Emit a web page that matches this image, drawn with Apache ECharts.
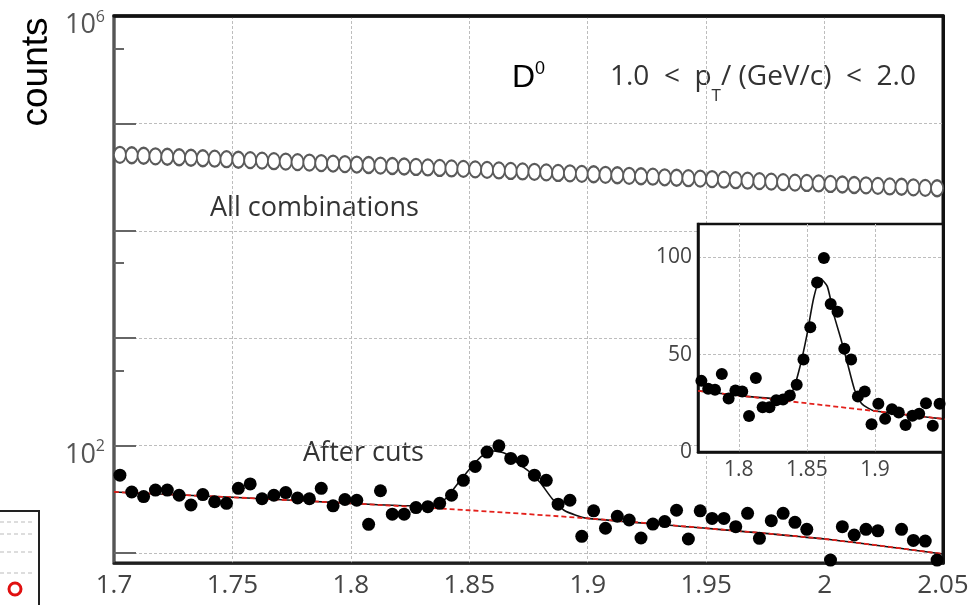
<!DOCTYPE html>
<html>
<head>
<meta charset="utf-8">
<script src="https://cdn.jsdelivr.net/npm/echarts@6/dist/echarts.min.js"></script>
<style>
  html, body { margin: 0; padding: 0; background: #fff; }
  #chart { width: 978px; height: 605px; }
</style>
</head>
<body>
<div id="chart"></div>
<script>
// invariant mass bin centres, GeV/c^2
const massBins = [
  1.7025, 1.7075, 1.7125, 1.7175, 1.7225, 1.7275, 1.7325, 1.7375, 1.7425, 1.7475,
  1.7525, 1.7575, 1.7625, 1.7675, 1.7725, 1.7775, 1.7825, 1.7875, 1.7925, 1.7975,
  1.8025, 1.8075, 1.8125, 1.8175, 1.8225, 1.8275, 1.8325, 1.8375, 1.8425, 1.8475,
  1.8525, 1.8575, 1.8625, 1.8675, 1.8725, 1.8775, 1.8825, 1.8875, 1.8925, 1.8975,
  1.9025, 1.9075, 1.9125, 1.9175, 1.9225, 1.9275, 1.9325, 1.9375, 1.9425, 1.9475,
  1.9525, 1.9575, 1.9625, 1.9675, 1.9725, 1.9775, 1.9825, 1.9875, 1.9925, 1.9975,
  2.0025, 2.0075, 2.0125, 2.0175, 2.0225, 2.0275, 2.0325, 2.0375, 2.0425, 2.0475
]
// "All combinations" (open circles)
const allComb = [
  51000, 50500, 50000, 49400, 48900, 48400, 47900, 47400, 46900, 46400,
  45900, 45500, 45000, 44500, 44100, 43600, 43200, 42700, 42300, 41800,
  41400, 41000, 40500, 40100, 39700, 39300, 38900, 38500, 38100, 37700,
  37300, 36900, 36500, 36100, 35700, 35400, 35000, 34600, 34300, 33900,
  33600, 33200, 32900, 32500, 32200, 31900, 31500, 31200, 30900, 30600,
  30300, 29900, 29600, 29300, 29000, 28700, 28400, 28100, 27900, 27600,
  27300, 27000, 26700, 26500, 26200, 25900, 25700, 25400, 25100, 24900
]
// "After cuts" (filled points), null = no point drawn
const afterCuts = [
  53, 37, 33.5, 38.5, 38.5, 34.5, 28, 35, 30, 29,
  40, 44, 32, 34.5, 36.5, 32.5, 32, 40, 27.5, 31.5,
  31, 18.5, 38, 23, 23, 26.5, 27, 29, 34.5, 47.5,
  64, 87, 99.5, 76, 72, 53, 47.5, 28.5, 31, 14.3,
  24.7, 17, 22, 20.3, 13.8, 18.6, 19.6, 25, 13.5, 24.7,
  21, 21, 17.6, 23.4, 13.7, 20, 23.4, 19.3, 16.6, null,
  8.6, 17.6, 14.7, 16.6, 16.1, null, 16.6, 13.1, 12.9, 8.6
]
// background fit (red dashed)
const bgX = [1.70, 1.75, 1.80, 1.85, 1.90, 1.95, 2.00, 2.05]
const bgY = [37, 33, 29, 25, 21, 17, 13.5, 9.8]
// signal + background fit (black)
const fitX = [1.70, 1.75, 1.80, 1.825, 1.835, 1.84, 1.845, 1.85, 1.855, 1.86, 1.865,
  1.87, 1.875, 1.88, 1.885, 1.89, 1.895, 1.90, 1.95, 2.00, 2.05]
const fitY = [37, 33, 29, 27.5, 28, 32, 44, 60, 79, 89, 85,
  70, 58, 45, 32, 25, 22.5, 21, 17, 13.5, 9.8]

const mainYTicks = [10, 100, 1000, 10000, 100000, 1000000]
const mainYLabels = [100, 1000000]
const mainYMinor = [50, 500, 5000, 50000, 500000]
const insetXTicks = [1.8, 1.85, 1.9]
const insetYTicks = [0, 50, 100]

const pts = (xs, ys) => xs.map((x, i) => [x, ys[i]])
const cutsData = massBins.map((x, i) => [x, afterCuts[i]]).filter(d => d[1] != null)

const gray = '#444'
const gridDash = { color: '#bdbdbd', width: 1, type: [3, 2] }

const chart = echarts.init(document.getElementById('chart'))
chart.setOption({
  animation: false,
  textStyle: { fontFamily: 'Open Sans' },
  grid: [
    { left: 114, top: 16, right: 35, bottom: 42, show: true, borderColor: '#111', borderWidth: 3 },
    { left: 698, top: 224, width: 245, height: 228, show: true, backgroundColor: '#fff',
      borderColor: '#111', borderWidth: 2.5, z: 5 }
  ],
  xAxis: [
    {
      type: 'value', gridIndex: 0, min: 1.7, max: 2.05, interval: 0.05,
      axisLine: { lineStyle: { color: '#222', width: 2.5 } },
      axisTick: { show: false },
      axisLabel: { fontSize: 26, color: gray, margin: 10 },
      splitLine: { show: true, lineStyle: gridDash }
    },
    {
      type: 'value', gridIndex: 1, min: 1.77, max: 1.95, z: 6,
      axisLine: { lineStyle: { color: '#111', width: 2.5 } },
      axisTick: { show: false, customValues: insetXTicks },
      axisLabel: { fontSize: 21, color: gray, margin: 8, customValues: insetXTicks },
      splitLine: { show: true, lineStyle: gridDash }
    },
    {
      // heavy top frame of the main panel
      type: 'value', gridIndex: 0, position: 'top', min: 1.7, max: 2.05, interval: 0.05, z: 2,
      axisLine: { lineStyle: { color: '#111', width: 3.5 } },
      axisTick: { show: false }, axisLabel: { show: false }, splitLine: { show: false }
    }
  ],
  yAxis: [
    {
      type: 'log', logBase: 10, gridIndex: 0, min: 8.07, max: 1000000,
      axisLine: { show: true, lineStyle: { color: '#555', width: 2 } },
      axisTick: { inside: true, length: 22, lineStyle: { color: '#666', width: 2 }, customValues: mainYTicks },
      axisLabel: {
        customValues: mainYLabels, margin: 9, padding: [16, 0, 0, 0],
        formatter: v => '{b|10}{s|' + Math.round(Math.log10(v)) + '}',
        rich: {
          b: { fontSize: 27, color: '#555', lineHeight: 30, verticalAlign: 'bottom' },
          s: { fontSize: 16, color: '#555', lineHeight: 16, verticalAlign: 'top' }
        }
      },
      splitLine: { show: true, lineStyle: gridDash }
    },
    {
      type: 'log', logBase: 10, gridIndex: 0, min: 8.07, max: 1000000, position: 'left',
      axisLine: { show: false },
      axisTick: { inside: true, length: 10, lineStyle: { color: '#666', width: 2 }, customValues: mainYMinor },
      axisLabel: { show: false },
      splitLine: { show: false }
    },
    {
      type: 'value', gridIndex: 1, min: 0, max: 117, z: 6,
      axisLine: { show: true, lineStyle: { color: '#111', width: 2.5 } },
      axisTick: { show: false, customValues: insetYTicks },
      axisLabel: { fontSize: 21, color: gray, margin: 6, customValues: insetYTicks },
      splitLine: { show: true, lineStyle: gridDash }
    },
    {
      // right frame of the main panel
      type: 'log', logBase: 10, gridIndex: 0, min: 8.07, max: 1000000, position: 'right', z: 2,
      axisLine: { show: true, lineStyle: { color: '#111', width: 3 } },
      axisTick: { show: false }, axisLabel: { show: false }, splitLine: { show: false }
    }
  ],
  series: [
    {
      name: 'All combinations', type: 'scatter', xAxisIndex: 0, yAxisIndex: 0,
      symbol: 'emptyCircle', symbolSize: [12, 16],
      itemStyle: { color: '#5a5a5a', borderWidth: 1.6, opacity: 1 },
      data: massBins.map((x, i) => [x, allComb[i]]), z: 3
    },
    {
      name: 'fit', type: 'line', xAxisIndex: 0, yAxisIndex: 0, showSymbol: false, smooth: 0.2,
      lineStyle: { color: '#111', width: 1.6 }, data: pts(fitX, fitY), z: 3
    },
    {
      name: 'background', type: 'line', xAxisIndex: 0, yAxisIndex: 0, showSymbol: false, smooth: 0.3,
      lineStyle: { color: '#e3201b', width: 1.8, type: [5, 3] }, data: pts(bgX, bgY), z: 4
    },
    {
      name: 'After cuts', type: 'scatter', xAxisIndex: 0, yAxisIndex: 0, symbolSize: 13,
      itemStyle: { color: '#000', opacity: 1 }, data: cutsData, z: 5
    },
    {
      name: 'inset fit', type: 'line', xAxisIndex: 1, yAxisIndex: 2, showSymbol: false, smooth: 0.2,
      lineStyle: { color: '#111', width: 1.6 }, data: pts(fitX, fitY), z: 10
    },
    {
      name: 'inset background', type: 'line', xAxisIndex: 1, yAxisIndex: 2, showSymbol: false,
      lineStyle: { color: '#e3201b', width: 1.8, type: [5, 3] }, data: pts(bgX, bgY), z: 11
    },
    {
      name: 'inset points', type: 'scatter', xAxisIndex: 1, yAxisIndex: 2, symbolSize: 12,
      itemStyle: { color: '#000', opacity: 1 }, data: cutsData, z: 12
    }
  ],
  graphic: [
    { type: 'text', x: 37, y: 72, rotation: Math.PI / 2,
      style: { text: 'counts', font: '37px "Liberation Sans"', fill: '#000', align: 'center', verticalAlign: 'middle' } },
    { type: 'text', x: 512, y: 60,
      style: {
        text: '{d|D}{s|0}',
        rich: {
          d: { fontSize: 32, fontFamily: 'Liberation Sans', fill: '#000', lineHeight: 34, verticalAlign: 'bottom' },
          s: { fontSize: 18, fontFamily: 'Liberation Sans', fill: '#000', lineHeight: 18, verticalAlign: 'top' }
        }
      } },
    { type: 'text', x: 610, y: 63,
      style: {
        text: '{t|1.0  <  p}{sub|T}{t|/ (GeV/c)  <  2.0}',
        rich: {
          t: { fontSize: 28, fontFamily: 'Open Sans', fill: '#333', lineHeight: 32, verticalAlign: 'top' },
          sub: { fontSize: 17, fontFamily: 'Open Sans', fill: '#333', lineHeight: 17, padding: [25, 0, 0, 0], verticalAlign: 'top' }
        }
      } },
    { type: 'text', x: 210, y: 208,
      style: { text: 'All combinations', font: '27px "Open Sans"', fill: '#333', verticalAlign: 'middle' } },
    { type: 'text', x: 303, y: 453,
      style: { text: 'After cuts', font: '27px "Open Sans"', fill: '#333', verticalAlign: 'middle' } },
    // cropped legend box in the lower left corner
    { type: 'rect', shape: { x: -5, y: 511, width: 44, height: 100 },
      style: { fill: '#fff', stroke: '#222', lineWidth: 2 } },
    { type: 'line', shape: { x1: 0, y1: 522, x2: 34, y2: 522 }, style: { stroke: '#bbb', lineDash: [4, 3] } },
    { type: 'line', shape: { x1: 0, y1: 534, x2: 34, y2: 534 }, style: { stroke: '#bbb', lineDash: [4, 3] } },
    { type: 'line', shape: { x1: 0, y1: 552, x2: 34, y2: 552 }, style: { stroke: '#bbb', lineDash: [4, 3] } },
    { type: 'line', shape: { x1: 0, y1: 573, x2: 34, y2: 573 }, style: { stroke: '#bbb', lineDash: [4, 3] } },
    { type: 'circle', shape: { cx: 15, cy: 589, r: 6 }, style: { fill: 'none', stroke: '#e01010', lineWidth: 3 } }
  ]
})
</script>
</body>
</html>
